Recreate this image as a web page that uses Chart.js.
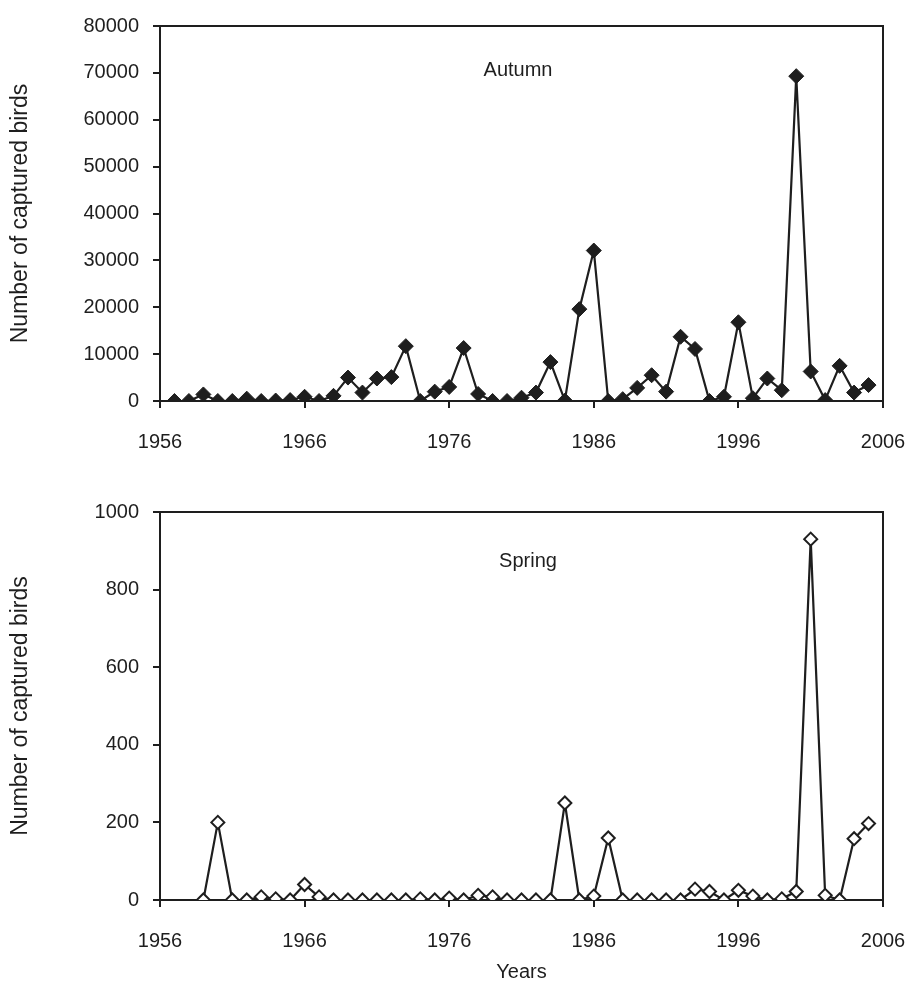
<!DOCTYPE html>
<html>
<head>
<meta charset="utf-8">
<script src="https://cdn.jsdelivr.net/npm/chart.js@4"></script>
<style>
  body { margin: 0; background: #fff; }
  .wrap { position: absolute; left: 0; width: 914px; }
  #autumnBox { top: 0; height: 480px; }
  #springBox { top: 480px; height: 511px; }
</style>
</head>
<body>
<div class="wrap" id="autumnBox"><canvas id="autumn-chart"></canvas></div>
<div class="wrap" id="springBox"><canvas id="spring-chart"></canvas></div>
<script>
// Autumn captures, per year
const autumnYears = [1957, 1958, 1959, 1960, 1961, 1962, 1963, 1964, 1965, 1966,
    1967, 1968, 1969, 1970, 1971, 1972, 1973, 1974, 1975, 1976,
    1977, 1978, 1979, 1980, 1981, 1982, 1983, 1984, 1985, 1986,
    1987, 1988, 1989, 1990, 1991, 1992, 1993, 1994, 1995, 1996,
    1997, 1998, 1999, 2000, 2001, 2002, 2003, 2004, 2005];
const autumnCounts = [0, 0, 1400, 0, 0, 500, 0, 100, 200, 900,
    0, 1100, 5000, 1800, 4800, 5100, 11700, 0, 2000, 3000,
    11300, 1500, 0, 0, 700, 1800, 8300, 100, 19600, 32100,
    0, 400, 2800, 5500, 2000, 13700, 11100, 0, 900, 16800,
    600, 4800, 2300, 69300, 6300, 200, 7500, 1800, 3400];

// Spring captures, per year
const springYears = [1959, 1960, 1961, 1962, 1963, 1964, 1965, 1966, 1967, 1968,
    1969, 1970, 1971, 1972, 1973, 1974, 1975, 1976, 1977, 1978,
    1979, 1980, 1981, 1982, 1983, 1984, 1985, 1986, 1987, 1988,
    1989, 1990, 1991, 1992, 1993, 1994, 1995, 1996, 1997, 1998,
    1999, 2000, 2001, 2002, 2003, 2004, 2005];
const springCounts = [0, 200, 0, 0, 8, 3, 0, 40, 8, 0,
    0, 0, 0, 0, 0, 3, 0, 5, 0, 12,
    8, 0, 0, 0, 0, 250, 0, 10, 160, 0,
    0, 0, 0, 0, 28, 22, 0, 25, 10, 0,
    3, 22, 930, 12, 0, 158, 197];

const yearTicks = [1956, 1966, 1976, 1986, 1996, 2006];
const autumnMax = 80000;
const springMax = 1000;

const ink = "#1e1e1e";
const fontFamily = "'Liberation Sans', Arial, sans-serif";

function toPoints(xs, ys) {
    return xs.map((x, i) => ({ x: x, y: ys[i] }));
}

// frame on top/right + season label inside the plot
const framePlugin = {
    id: "frame",
    afterDraw(chart, args, opts) {
        const a = chart.chartArea;
        const ctx = chart.ctx;
        ctx.save();
        ctx.strokeStyle = ink;
        ctx.lineWidth = 2;
        ctx.beginPath();
        ctx.moveTo(a.left, a.top);
        ctx.lineTo(a.right, a.top);
        ctx.lineTo(a.right, a.bottom);
        ctx.stroke();
        ctx.fillStyle = ink;
        ctx.font = "20px " + fontFamily;
        ctx.textAlign = "center";
        ctx.textBaseline = "middle";
        ctx.fillText(opts.label, opts.labelX, a.top + opts.labelDy);
        ctx.restore();
    }
};

function buildChart(canvasId, meta) {
    return new Chart(document.getElementById(canvasId), {
        type: "line",
        data: {
            datasets: [{
                data: toPoints(meta.years, meta.counts),
                borderColor: ink,
                borderWidth: 2.2,
                pointStyle: "rectRot",
                pointRadius: meta.pointRadius,
                pointBackgroundColor: meta.pointFill,
                pointBorderColor: ink,
                pointBorderWidth: meta.pointBorder,
                tension: 0
            }]
        },
        options: {
            responsive: true,
            maintainAspectRatio: false,
            animation: false,
            layout: { padding: { left: 0, right: 31, top: meta.padTop, bottom: 0 } },
            plugins: {
                legend: { display: false },
                tooltip: { enabled: false },
                frame: { label: meta.label, labelX: meta.labelX, labelDy: meta.labelDy }
            },
            scales: {
                x: {
                    type: "linear",
                    min: 1956,
                    max: 2006,
                    afterBuildTicks: scale => {
                        scale.ticks = yearTicks.map(v => ({ value: v }));
                    },
                    afterFit: scale => {
                        scale.height = meta.xHeight;
                        scale.paddingLeft = 0;
                        scale.paddingRight = 0;
                    },
                    grid: { display: true, drawOnChartArea: false, tickLength: 7, color: ink, lineWidth: 2 },
                    border: { color: ink, width: 2 },
                    ticks: {
                        color: ink,
                        padding: 22,
                        maxRotation: 0,
                        callback: v => String(v),
                        font: { family: fontFamily, size: 20 }
                    },
                    title: {
                        display: meta.showYears,
                        text: "Years",
                        color: ink,
                        padding: { top: 0, bottom: 7 },
                        font: { family: fontFamily, size: 20 }
                    }
                },
                y: {
                    min: 0,
                    max: meta.yMax,
                    afterFit: scale => { scale.width = 160; },
                    grid: { display: true, drawOnChartArea: false, tickLength: 7, color: ink, lineWidth: 2 },
                    border: { color: ink, width: 2 },
                    ticks: {
                        stepSize: meta.yStep,
                        color: ink,
                        padding: 14,
                        callback: v => String(v),
                        font: { family: fontFamily, size: 20 }
                    },
                    title: {
                        display: true,
                        text: "Number of captured birds",
                        color: ink,
                        padding: { top: 7, bottom: 0 },
                        font: { family: fontFamily, size: 23 }
                    }
                }
            }
        },
        plugins: [framePlugin]
    });
}

buildChart("autumn-chart", {
    years: autumnYears, counts: autumnCounts,
    yMax: autumnMax, yStep: 10000,
    pointRadius: 7.5, pointFill: ink, pointBorder: 1,
    padTop: 20, xHeight: 79, showYears: false,
    label: "Autumn", labelX: 518, labelDy: 44
});

buildChart("spring-chart", {
    years: springYears, counts: springCounts,
    yMax: springMax, yStep: 200,
    pointRadius: 6.5, pointFill: "#ffffff", pointBorder: 2,
    padTop: 32, xHeight: 91, showYears: true,
    label: "Spring", labelX: 528, labelDy: 49
});
</script>
</body>
</html>
